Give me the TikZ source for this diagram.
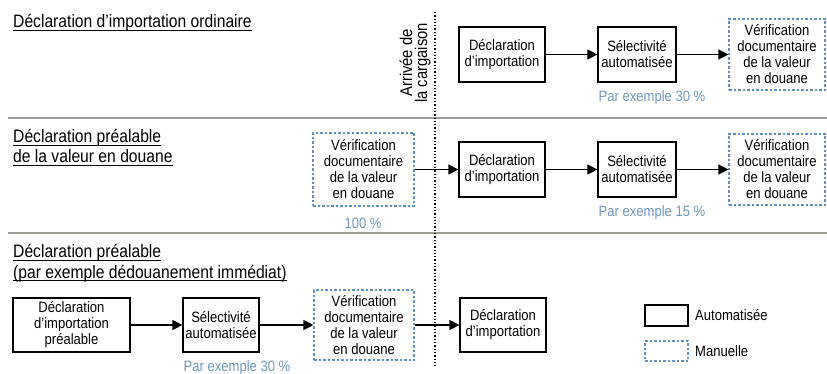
\documentclass[tikz,border=0pt]{standalone}
\usepackage{fontspec}
\setmainfont{Liberation Sans}[FakeStretch=0.87]
\usetikzlibrary{arrows.meta}
\definecolor{manblue}{HTML}{5F8FC9}
\definecolor{pctblue}{HTML}{6C96C3}
\definecolor{rulegray}{HTML}{9E9A96}
% underlined text that lets descenders cross the rule
\newcommand\ulin[1]{\setbox0\hbox{#1}\rlap{\rule[-3.2pt]{\wd0}{0.9pt}}\box0}
\tikzset{
  boxtext/.style={font=\fontsize{15}{16}\selectfont, align=center, inner sep=0pt},
  autobox/.style={boxtext, draw=black, line width=1.2pt},
  manbox/.style={boxtext, draw=manblue, line width=1.1pt, dash pattern=on 2.5pt off 2pt},
  flow/.style={-{Triangle[length=10pt,width=10pt]}, line width=1.2pt},
  pct/.style={font=\fontsize{15}{16}\selectfont, text=pctblue, inner sep=0pt},
  title/.style={font=\fontsize{18}{21}\selectfont, align=left, inner sep=0pt, anchor=base west},
  sep/.style={draw=rulegray, line width=1.5pt},
}
\begin{document}
\begin{tikzpicture}[x=1pt,y=-1pt]
\useasboundingbox (0,0) rectangle (827,374);

% section rules and arrival marker
\draw[sep] (8,118) -- (827,118);
\draw[sep] (8,233) -- (827,233);
\coordinate (arrtop) at (435,12);
\coordinate (arrbot) at (435,368);
\draw[line width=1.3pt, dash pattern=on 1.3pt off 2pt] (arrtop) -- (arrbot);
\node[font=\fontsize{17}{15}\selectfont, align=center, inner sep=0pt, rotate=90] (arrival) at (415,63) {Arrivée de\\la cargaison};

% section titles
\node[title] (t1) at (13,28) {\ulin{Déclaration d’importation ordinaire}};
\node[title] (t2a) at (13,143) {\ulin{Déclaration préalable}};
\node[title] (t2b) at (13,163) {\ulin{de la valeur en douane}};
\node[title] (t3a) at (13,258) {\ulin{Déclaration préalable}};
\node[title] (t3b) at (13,278) {\ulin{(par exemple dédouanement immédiat)}};

% ordinary declaration
\node[autobox, minimum width=86pt, minimum height=55pt] (d1) at (502,54.5) {Déclaration\\d’importation};
\node[autobox, minimum width=78pt, minimum height=55pt] (s1) at (637,54.5) {Sélectivité\\automatisée};
\node[manbox, minimum width=96pt, minimum height=71pt] (v1) at (777,54.5) {Vérification\\documentaire\\de la valeur\\en douane};
\draw[flow] (d1) -- (s1);
\draw[flow] (s1) -- (v1);
\node[pct] (p1) at (652,98) {Par exemple 30 \%};

% prior customs value declaration
\node[manbox, minimum width=101pt, minimum height=73pt] (v2a) at (363.5,169.5) {Vérification\\documentaire\\de la valeur\\en douane};
\node[autobox, minimum width=86pt, minimum height=55pt] (d2) at (502,169.5) {Déclaration\\d’importation};
\node[autobox, minimum width=78pt, minimum height=55pt] (s2) at (637,169.5) {Sélectivité\\automatisée};
\node[manbox, minimum width=96pt, minimum height=71pt] (v2b) at (777,169.5) {Vérification\\documentaire\\de la valeur\\en douane};
\draw[flow] (v2a) -- (d2);
\draw[flow] (d2) -- (s2);
\draw[flow] (s2) -- (v2b);
\node[pct] (p2a) at (363,223) {100 \%};
\node[pct] (p2b) at (652,213) {Par exemple 15 \%};

% prior declaration (immediate clearance)
\node[autobox, minimum width=117pt, minimum height=54pt] (d3p) at (71.5,325) {Déclaration\\d’importation\\préalable};
\node[autobox, minimum width=76pt, minimum height=54pt] (s3) at (221,325) {Sélectivité\\automatisée};
\node[manbox, minimum width=100pt, minimum height=70pt] (v3) at (364,325) {Vérification\\documentaire\\de la valeur\\en douane};
\node[autobox, minimum width=86pt, minimum height=54pt] (d3) at (503,325) {Déclaration\\d’importation};
\draw[flow] (d3p) -- (s3);
\draw[flow] (s3) -- (v3);
\draw[flow] (v3) -- (d3);
\node[pct] (p3) at (237,368) {Par exemple 30 \%};

% legend
\node[autobox, minimum width=43pt, minimum height=21pt] (lga) at (666.5,315.5) {};
\node[manbox, minimum width=43pt, minimum height=20pt] (lgm) at (666.5,351) {};
\node[boxtext, anchor=west] (lta) at (695,315.5) {Automatisée};
\node[boxtext, anchor=west] (ltm) at (695,351) {Manuelle};
\end{tikzpicture}
\end{document}
